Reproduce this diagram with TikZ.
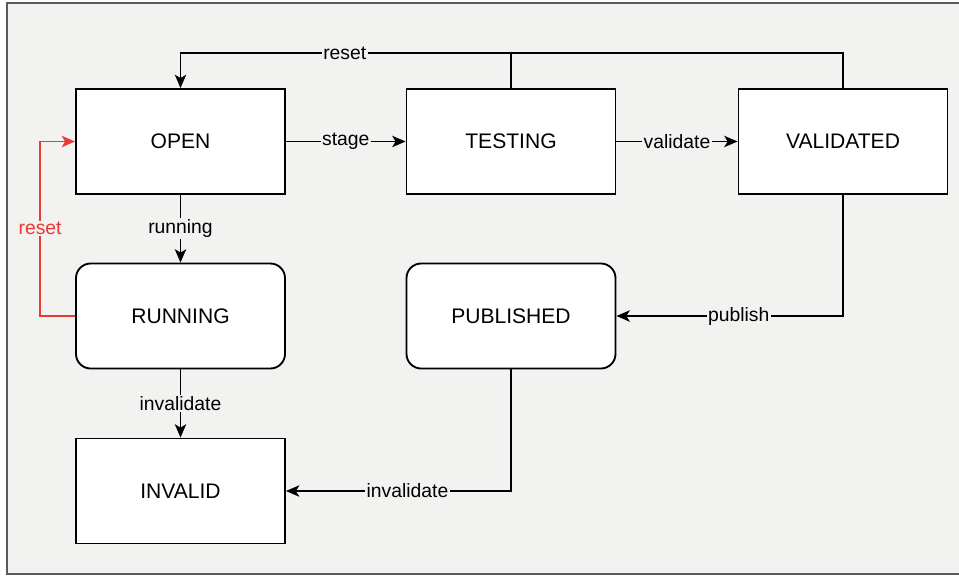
\documentclass[tikz,border=0pt]{standalone}
\usepackage{fontspec}
\setmainfont{Liberation Sans}
\usetikzlibrary{arrows.meta}

\definecolor{bggray}{RGB}{242,242,241}
\definecolor{framegray}{RGB}{90,90,90}
\definecolor{resetred}{RGB}{232,58,48}

\tikzset{
    state/.style={draw, fill=white, line width=1.4pt, minimum width=156.75pt,
        minimum height=78.75pt, inner sep=0pt, font=\fontsize{15.8}{18}\selectfont},
    softstate/.style={state, rounded corners=11pt},
    trans/.style={draw, line width=1.3pt, -{Stealth[length=10pt,width=8.5pt,inset=2.5pt]}},
    tlabel/.style={fill=bggray, inner sep=1pt, font=\fontsize{14.5}{17}\selectfont},
}

\begin{document}
\begin{tikzpicture}[x=0.75pt,y=-0.75pt]
    \useasboundingbox (0,0) rectangle (959,575);
    \fill [bggray] (7,3) rectangle (959,574);
    \draw [framegray, line width=1.2pt] (959,3) -- (7,3) -- (7,574) -- (959,574);

    \node [state] (open) at (180.5,141.5) {OPEN};
    \node [state] (testing) at (511,141.5) {TESTING};
    \node [state] (validated) at (843,141.5) {VALIDATED};
    \node [softstate] (running) at (180.5,316) {RUNNING};
    \node [softstate] (published) at (511,316) {PUBLISHED};
    \node [state] (invalid) at (180.5,491) {INVALID};

    \draw [trans] (open) -- node [tlabel] {stage} (testing);
    \draw [trans] (testing) -- node [tlabel] {validate} (validated);
    \draw [trans] (open) -- node [tlabel] {running} (running);
    \draw [trans] (running) -- node [tlabel] {invalidate} (invalid);

    \draw [trans] (validated.north) -- ++(0,-35) coordinate (resetbend)
        -| node [tlabel, pos=0.376] {reset} (open.north);
    \draw [line width=1.3pt] (testing.north) -- (testing.north |- resetbend);

    \draw [trans] (validated.south) |- node [tlabel, pos=0.73] {publish} (published.east);
    \draw [trans] (published.south) |- node [tlabel, pos=0.73] {invalidate} (invalid.east);

    \draw [trans, resetred] (running.west) -- ++(-35,0)
        |- node [tlabel, text=resetred, pos=0.25] {reset} (open.west);
\end{tikzpicture}
\end{document}
